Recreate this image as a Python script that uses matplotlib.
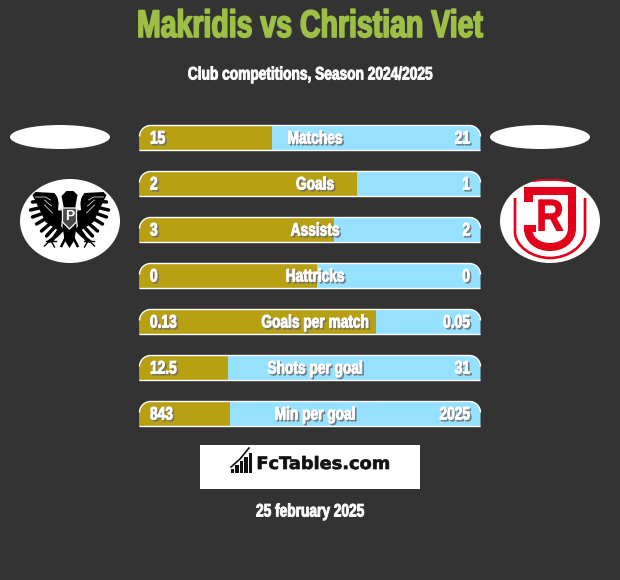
import matplotlib
matplotlib.use("Agg")
import matplotlib.pyplot as plt
from matplotlib.patches import Ellipse, Rectangle, PathPatch, Polygon
from matplotlib.path import Path
from matplotlib.patheffects import AbstractPathEffect
from matplotlib.transforms import Affine2D

title = "Makridis vs Christian Viet"
subtitle = "Club competitions, Season 2024/2025"
date_label = "25 february 2025"
brand = "FcTables.com"
metrics = ["Matches", "Goals", "Assists", "Hattricks", "Goals per match", "Shots per goal", "Min per goal"]
left_labels = ["15", "2", "3", "0", "0.13", "12.5", "843"]
right_labels = ["21", "1", "2", "0", "0.05", "31", "2025"]
left_share = [38.9, 63.7, 57.0, 52.0, 69.3, 26.0, 26.6]

BG = "#333333"; GOLD = "#B8A013"; BLUE = "#95E1FF"; GREEN = "#9DBF45"; RED = "#E2001A"
FONT = ["Liberation Sans", "DejaVu Sans"]


class Condense(AbstractPathEffect):
    """Squeeze a real text horizontally about its anchor, thicken it, optional shadow."""
    def __init__(self, anchor, sx, bold=0.5, shadow=False):
        super().__init__()
        self.anchor, self.sx, self.bold, self.shadow = anchor, sx, bold, shadow

    def draw_path(self, renderer, gc, tpath, affine, rgbFace):
        a = affine + Affine2D().translate(-self.anchor, 0).scale(self.sx, 1).translate(self.anchor, 0)
        if self.shadow:
            g = renderer.new_gc(); g.copy_properties(gc)
            g.set_linewidth(self.bold); g.set_foreground("#6a6a6a"); g.set_alpha(0.75)
            renderer.draw_path(g, tpath, a + Affine2D().translate(1.6, -1.6), (0.42, 0.42, 0.42, 0.75))
            g.restore()
        g = renderer.new_gc(); g.copy_properties(gc)
        g.set_linewidth(self.bold); g.set_foreground(rgbFace)
        renderer.draw_path(g, tpath, a, rgbFace)
        g.restore()


fig = plt.figure(figsize=(6.2, 5.8), dpi=100, facecolor=BG)
ax = fig.add_axes([0, 0, 1, 1]); ax.set_xlim(0, 620); ax.set_ylim(580, 0); ax.axis("off")


def label(x, y, s, color="white", size=13, ha="center", sx=0.76, bold=0.65, shadow=False, z=6, family=FONT):
    t = ax.text(x, y, s, color=color, fontsize=size, fontweight="bold", family=family, ha=ha, va="center", zorder=z)
    t.set_path_effects([Condense(x, sx, bold, shadow)])
    return t


label(310, 27, title, color=GREEN, size=27.7, sx=0.74, bold=1.2)
label(310, 75, subtitle)
label(310, 512, date_label)

X0, W, H = 139, 342, 26


def rounded(x0, y0, w, h, r):
    x1, y1 = x0 + w, y0 + h
    k = r * 0.45
    v = [(x0, y1), (x0, y0 + r), (x0, y0 + k), (x0 + k, y0), (x0 + r, y0), (x1 - r, y0),
         (x1 - k, y0), (x1, y0 + k), (x1, y0 + r), (x1, y1), (x0, y1)]
    c = [Path.MOVETO, Path.LINETO, Path.CURVE4, Path.CURVE4, Path.CURVE4, Path.LINETO,
         Path.CURVE4, Path.CURVE4, Path.CURVE4, Path.LINETO, Path.LINETO]
    return Path(v, c)


def edge(x0, y0, w, h, r):
    x1, y1 = x0 + w, y0 + h
    k = r * 0.45
    v = [(x0, y0 + r), (x0, y0 + k), (x0 + k, y0), (x0 + r, y0), (x1 - r, y0),
         (x1 - k, y0), (x1, y0 + k), (x1, y0 + r), (x0, y1), (x1, y1)]
    c = [Path.MOVETO, Path.CURVE4, Path.CURVE4, Path.CURVE4, Path.LINETO,
         Path.CURVE4, Path.CURVE4, Path.CURVE4, Path.MOVETO, Path.LINETO]
    return Path(v, c)


for i, m in enumerate(metrics):
    top = 125 + 46 * i
    clip = PathPatch(rounded(X0 + .5, top + .5, W - 1, H - 1, 11), fc=BLUE, lw=0, zorder=2)
    ax.add_patch(clip)
    b = ax.barh(top + H / 2, W * left_share[i] / 100, left=X0, height=H, color=GOLD, lw=0, zorder=3)
    b[0].set_clip_path(clip)
    ax.add_patch(PathPatch(edge(X0 + .5, top + .5, W - 1, H - 1, 11), fc="none", ec="white", lw=1.0, zorder=4))
    label(X0 + 11, top + 14, left_labels[i], ha="left", shadow=True)
    label(315, top + 14, m, shadow=True)
    label(X0 + W - 11, top + 14, right_labels[i], ha="right", shadow=True)

for cx, cxc in ((60, 70), (540, 550)):
    ax.add_patch(Ellipse((cx, 137), 100, 24, fc="white", lw=0))
    ax.add_patch(Ellipse((cxc, 221), 100, 84, fc="white", lw=0))

# ---- Eagle crest (decorative)
ink = "black"
C = 69.5
for s in (-1, 1):
    ax.add_patch(Polygon([(C + s * 7, 214), (C + s * 11, 199), (C + s * 15, 193), (C + s * 34, 192),
                          (C + s * 37, 195), (C + s * 24, 222), (C + s * 9, 232)],
                         fc=ink, lw=0, zorder=3))
    tips = [(37, 202), (39, 210), (37, 217), (33, 224), (28, 231), (23, 236), (18, 241)]
    roots = [(18, 200), (18, 205), (17, 210), (16, 214), (14, 219), (11, 223), (9, 228)]
    for (tx, ty), (rx, ry) in zip(tips, roots):
        ax.plot([C + s * rx, C + s * tx], [ry, ty], color=ink, lw=2.5, solid_capstyle="round", zorder=3)
    ax.plot([C + s * 19, C + s * 24, C + s * 34], [200, 197, 197], color="white", lw=0.5, zorder=4)
    ax.plot([C + s * 18, C + s * 25], [206, 200], color="white", lw=0.5, zorder=4)
    ax.plot([C + s * 17, C + s * 25], [213, 205], color="white", lw=0.5, zorder=4)
    ax.plot([C + s * 11, C + s * 9.5, C + s * 10], [195, 203, 209], color="white", lw=2.0, zorder=4)
    ax.plot([C + s * 6, C + s * 13, C + s * 20], [229, 236, 241], color=ink, lw=2.2, zorder=3)
    ax.plot([C + s * 14, C + s * 24], [241, 241], color=ink, lw=1.0, zorder=3)
    ax.plot([C + s * 19, C + s * 25], [240, 246], color=ink, lw=1.0, zorder=3)
    ax.plot([C + s * 19, C + s * 15], [240, 247], color=ink, lw=1.0, zorder=3)
    ax.plot([C + s * 3, C + s * 8], [236, 246], color=ink, lw=1.8, zorder=3)
ax.add_patch(Polygon([(C - 7, 226), (C + 7, 226), (C + 5, 240), (C, 248), (C - 5, 240)], fc=ink, lw=0, zorder=3))
ax.add_patch(Polygon([(C - 6, 206), (C - 8, 196), (C - 3, 191), (C + 4, 191), (C + 8, 195), (C + 6, 206), (C + 7, 226), (C - 7, 226)],
                     fc=ink, lw=0, zorder=3))
ax.add_patch(Polygon([(C - 7, 208), (C + 7, 208), (C + 7, 222), (C, 229), (C - 7, 222)], fc="#4a4a4a", ec="white", lw=0.9, zorder=5))
ax.text(C, 216.5, "P", color="white", fontsize=10, fontweight="bold", family="Liberation Sans", ha="center", va="center", zorder=6)

# ---- Jahn crest (decorative)
ax.plot([534, 542, 558, 566], [181, 180, 180, 181], color=RED, lw=1.4, zorder=3)
MV, C4, LN = Path.MOVETO, Path.CURVE4, Path.LINETO
ax.add_patch(PathPatch(Path([(515, 198), (515, 232), (515, 246), (532, 258), (550, 258), (568, 258), (585, 246), (585, 232), (585, 198)],
                            [MV, LN, C4, C4, C4, C4, C4, C4, LN]), fc="none", ec=RED, lw=1.9, capstyle="butt", zorder=3))
ax.add_patch(PathPatch(Path([(524, 191), (572, 191), (572, 228), (572, 240), (562, 247), (550, 247), (538, 247), (528, 240), (528, 228)],
                            [MV, LN, LN, C4, C4, C4, C4, C4, C4]), fc="none", ec=RED, lw=5.8, capstyle="butt", joinstyle="miter", zorder=3))
ax.add_patch(Rectangle((524, 187), 9, 15, fc=RED, lw=0, zorder=3))
ax.add_patch(Rectangle((524, 225), 12, 7, fc=RED, lw=0, zorder=3))
label(550, 219, "R", color=RED, size=32, sx=0.85, bold=0.8, z=4)

# ---- Brand box
ax.add_patch(Rectangle((200, 445), 220, 44, fc="white", lw=0))
icon_h = [4, 8, 12, 16, 20]
for j, h in enumerate(icon_h):
    ax.add_patch(Rectangle((231 + j * 4.4, 473 - h), 3.4, h, fc="#111111", lw=0))
ax.plot([231, 240, 249], [467, 459, 448], color="#111111", lw=1.2, zorder=3)
label(323.5, 464, brand, color="#111111", size=12.3, sx=1.04, bold=0.5, family=["DejaVu Sans"])

fig.savefig("out.png", dpi=100, facecolor=BG)
